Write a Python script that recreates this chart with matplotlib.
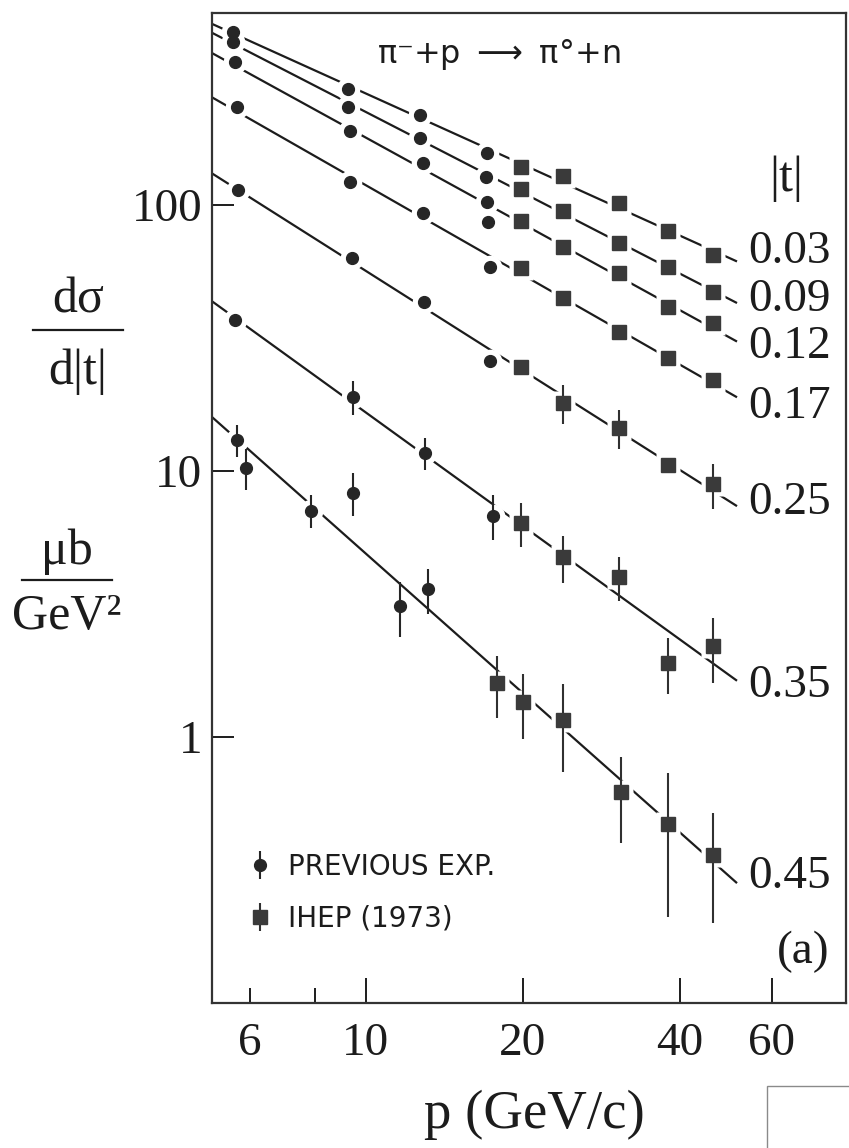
import numpy as np
import matplotlib
matplotlib.use('Agg')
import matplotlib.pyplot as plt
from matplotlib.lines import Line2D
from matplotlib.patches import Rectangle
from matplotlib.ticker import FixedLocator, FixedFormatter, NullLocator

# |t| bins (GeV^2), top to bottom
t_values = ['0.03', '0.09', '0.12', '0.17', '0.25', '0.35', '0.45']

# previous experiments (circles)
prev_p = [[5.57, 9.26, 12.7, 17.1],
          [5.57, 9.26, 12.7, 17.0],
          [5.62, 9.34, 12.9, 17.1, 17.2],
          [5.67, 9.34, 12.9, 17.3],
          [5.70, 9.42, 12.95, 17.3],
          [5.62, 9.46, 13.0, 17.55],
          [5.67, 5.89, 7.86, 9.46, 11.65, 13.2]]
prev_s = [[447, 273, 218, 157],
          [410, 234, 179, 127],
          [345, 190, 144, 103, 86],
          [234, 122, 93, 58.5],
          [114, 63, 43, 26],
          [37, 19, 11.7, 6.8],
          [13.1, 10.3, 7.1, 8.3, 3.1, 3.6]]
prev_err = [[0, 0, 0, 0],
            [0, 0, 0, 0],
            [0, 0, 0, 0, 0],
            [0, 0, 0, 0],
            [0, 0, 0, 0],
            [0, 2.8, 1.6, 1.3],
            [1.8, 1.8, 1.0, 1.5, 0.72, 0.69]]

# IHEP 1973 (squares)
ihep_p = [[19.9, 23.9, 30.6, 38.0, 46.3]] * 6 + [[17.9, 20.0, 23.9, 30.9, 38.0, 46.3]]
ihep_s = [[139, 128, 102, 80, 65],
          [115, 95, 72, 58.5, 47],
          [87, 69.5, 55.5, 41.4, 36],
          [58, 44.7, 33.3, 26.6, 22.0],
          [24.6, 18.0, 14.5, 10.5, 8.9],
          [6.4, 4.75, 4.0, 1.9, 2.2],
          [1.60, 1.35, 1.16, 0.62, 0.47, 0.36]]
ihep_err = [[0, 0, 0, 0, 0],
            [0, 0, 0, 0, 0],
            [0, 0, 0, 0, 0],
            [0, 0, 0, 0, 0],
            [0, 3.0, 2.4, 0, 1.7],
            [1.2, 0.95, 0.75, 0.45, 0.6],
            [0.42, 0.37, 0.42, 0.22, 0.26, 0.16]]

x_ticks = [10, 20, 40, 60]
x_minor = [6, 8]
y_ticks = [1, 10, 100]

plt.rcParams['font.family'] = 'serif'
plt.rcParams['font.serif'] = ['Liberation Serif', 'DejaVu Serif']
plt.rcParams['mathtext.fontset'] = 'dejavusans'

ink = '#1c1c1c'
W, H = 849, 1148

fig = plt.figure(figsize=(W / 100, H / 100), dpi=100)
ax = fig.add_axes([212 / W, 145 / H, 634 / W, 990 / H])
ax.set_xscale('log')
ax.set_yscale('log')
xlo, xhi = 5.08, 83.3
ax.set_xlim(xlo, xhi)
ax.set_ylim(0.1, 527)
line_end = 51.5

h_prev = h_ihep = None
for i, t in enumerate(t_values):
    pp, ps = np.array(prev_p[i]), np.array(prev_s[i])
    ip, isg = np.array(ihep_p[i]), np.array(ihep_s[i])
    allp = np.concatenate([pp, ip])
    alls = np.concatenate([ps, isg])
    k, b = np.polyfit(np.log10(allp), np.log10(alls), 1)
    pl = np.array([xlo, line_end])
    ax.plot(pl, 10 ** (b + k * np.log10(pl)), color=ink, lw=1.6, zorder=1,
            solid_capstyle='butt')
    # white halos break the fit line around each point
    ax.plot(pp, ps, 'o', ms=17, color='white', mec='none', zorder=2)
    ax.plot(ip, isg, 's', ms=17, color='white', mec='none', zorder=2)
    h_prev = ax.errorbar(pp, ps, yerr=prev_err[i], fmt='o', ms=8.5, color='#262626',
                         ecolor='#262626', elinewidth=1.5, capsize=0, zorder=3)
    h_ihep = ax.errorbar(ip, isg, yerr=ihep_err[i], fmt='s', ms=10.5, color='#3a3a3a',
                         ecolor='#303030', elinewidth=1.5, capsize=0, zorder=3)

ax.xaxis.set_major_locator(FixedLocator(x_ticks))
ax.xaxis.set_major_formatter(FixedFormatter([str(v) for v in x_ticks]))
ax.xaxis.set_minor_locator(FixedLocator(x_minor))
ax.xaxis.set_minor_formatter(FixedFormatter(['6', '']))
ax.yaxis.set_major_locator(FixedLocator(y_ticks))
ax.yaxis.set_major_formatter(FixedFormatter([str(v) for v in y_ticks]))
ax.yaxis.set_minor_locator(NullLocator())
ax.tick_params(axis='x', which='major', direction='in', length=18, width=1.4,
               labelsize=34, pad=14, colors=ink)
ax.tick_params(axis='x', which='minor', direction='in', length=11, width=1.4,
               labelsize=34, pad=14, colors=ink)
ax.tick_params(axis='y', which='major', direction='in', length=16, width=1.4,
               labelsize=34, pad=7, colors=ink)
for s in ax.spines.values():
    s.set_linewidth(1.6)
    s.set_color('#333333')

# |t| labels at the right end of the lines
label_y = [0.7586, 0.7101, 0.6626, 0.6020, 0.5051, 0.3202, 0.1273]
for t, yy in zip(t_values, label_y):
    ax.text(0.846, yy, t, transform=ax.transAxes, fontsize=34, color=ink,
            ha='left', va='center')
ax.text(0.905, 0.833, '|t|', transform=ax.transAxes, fontsize=36, color=ink,
        ha='center', va='center')
ax.text(0.932, 0.052, '(a)', transform=ax.transAxes, fontsize=34, color=ink,
        ha='center', va='center')

fig.text(499 / W, 1 - 55 / H, 'π⁻+p $\\longrightarrow$ π°+n', family='DejaVu Sans',
         fontsize=23, color=ink, ha='center', va='center')

leg = ax.legend([h_prev, h_ihep], ['PREVIOUS EXP.', 'IHEP (1973)'],
                loc='lower left', bbox_to_anchor=(0.015, 0.046), frameon=False,
                handlelength=1.0, handletextpad=0.5, labelspacing=0.85, numpoints=1,
                prop={'family': 'DejaVu Sans', 'size': 20})
for txt in leg.get_texts():
    txt.set_color(ink)

# axis labels
fig.text(534 / W, 1 - 1115 / H, 'p (GeV/c)', fontsize=39.5, color=ink,
         ha='center', va='center')
fig.text(78 / W, 1 - 300 / H, 'dσ', fontsize=36, color=ink, ha='center', va='center')
fig.add_artist(Line2D([33 / W, 123 / W], [1 - 330 / H] * 2, transform=fig.transFigure,
                      lw=1.6, color=ink))
fig.text(78 / W, 1 - 372 / H, 'd|t|', fontsize=36, color=ink, ha='center', va='center')
fig.text(67 / W, 1 - 552 / H, 'μb', fontsize=36, color=ink, ha='center', va='center')
fig.add_artist(Line2D([22 / W, 112 / W], [1 - 580 / H] * 2, transform=fig.transFigure,
                      lw=1.6, color=ink))
fig.text(67 / W, 1 - 617 / H, 'GeV²', fontsize=36, color=ink, ha='center', va='center')

# stray frame corner at the bottom right of the scan
fig.add_artist(Rectangle((767 / W, -0.1), 0.3, 0.1 + (H - 1086) / H,
                         transform=fig.transFigure, fill=False, edgecolor='#8a8a8a', lw=1.0))

fig.savefig('out.png', dpi=100)
